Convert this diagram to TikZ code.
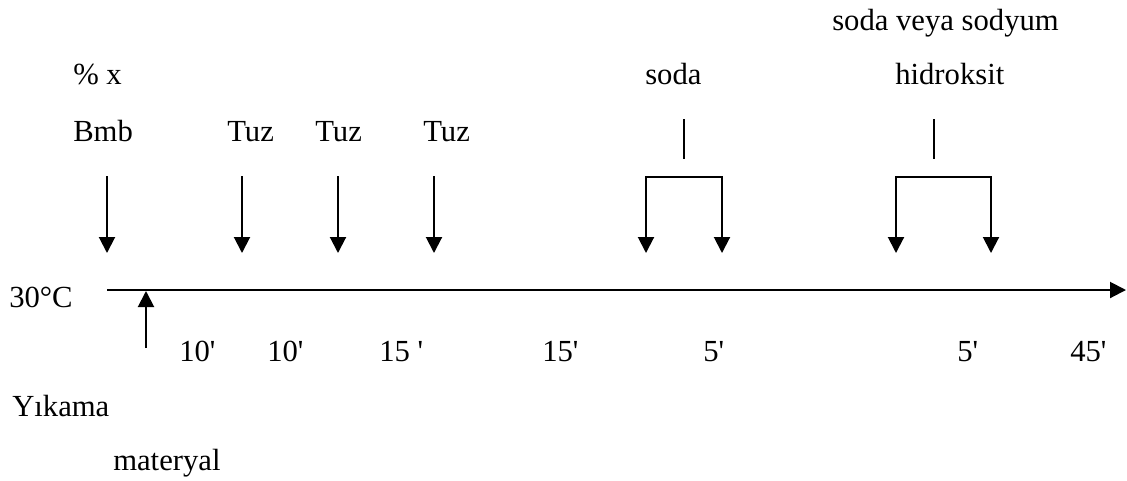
\documentclass[tikz,border=0pt]{standalone}
\usepackage{fontspec}
\setmainfont{Liberation Serif}[Ligatures=TeXOff]
\usetikzlibrary{arrows.meta}
\begin{document}
\begin{tikzpicture}[x=0.75pt,y=-0.75pt,
  lbl/.style={inner sep=0pt,anchor=base west,font=\fontsize{23}{26}\selectfont},
  conn/.style={line width=1.5pt},
  arr/.style={conn,-{Triangle[length=12pt,width=12pt]}},
  barr/.style={conn,{Triangle[length=12pt,width=12pt]}-{Triangle[length=12pt,width=12pt]}}]
\useasboundingbox (0,0) rectangle (1127,480);
% top texts
\node[lbl] (svs) at (832,30) {soda veya sodyum};
\node[lbl] (px) at (73,84) {\% x};
\node[lbl] (soda) at (645,84) {soda};
\node[lbl] (hid) at (895,84) {hidroksit};
\node[lbl] (bmb) at (73,141) {Bmb};
\node[lbl] (t1) at (227,141) {Tuz};
\node[lbl] (t2) at (315,141) {Tuz};
\node[lbl] (t3) at (423,141) {Tuz};
% single arrows
\foreach \n/\x in {a/107,b/242,c/338,d/434}{
  \coordinate (\n s) at (\x,176);
  \coordinate (\n e) at (\x,253);
  \draw[arr] (\n s) -- (\n e);
}
% brackets
\coordinate (s1a) at (684,119); \coordinate (s1b) at (684,159);
\draw[conn] (s1a) -- (s1b);
\coordinate (b1l) at (646,253); \coordinate (b1lt) at (646,177);
\coordinate (b1rt) at (722,177); \coordinate (b1r) at (722,253);
\draw[barr] (b1l) -- (b1lt) -- (b1rt) -- (b1r);
\coordinate (s2a) at (934,119); \coordinate (s2b) at (934,159);
\draw[conn] (s2a) -- (s2b);
\coordinate (b2l) at (896,253); \coordinate (b2lt) at (896,177);
\coordinate (b2rt) at (991,177); \coordinate (b2r) at (991,253);
\draw[barr] (b2l) -- (b2lt) -- (b2rt) -- (b2r);
% axis
\node[lbl] (temp) at (9,307) {30°C};
\coordinate (ax0) at (107,290); \coordinate (ax1) at (1126,290);
\draw[arr] (ax0) -- (ax1);
\coordinate (up0) at (146,348); \coordinate (up1) at (146,291);
\draw[arr] (up0) -- (up1);
% times
\node[lbl] (m1) at (179,361) {10'};
\node[lbl] (m2) at (267,361) {10'};
\node[lbl] (m3) at (379,361) {15 '};
\node[lbl] (m4) at (542,361) {15'};
\node[lbl] (m5) at (703,361) {5'};
\node[lbl] (m6) at (957,361) {5'};
\node[lbl] (m7) at (1070,361) {45'};
% bottom
\node[lbl] (yik) at (12,416) {Yıkama};
\node[lbl] (mat) at (113,470) {materyal};
\end{tikzpicture}
\end{document}
